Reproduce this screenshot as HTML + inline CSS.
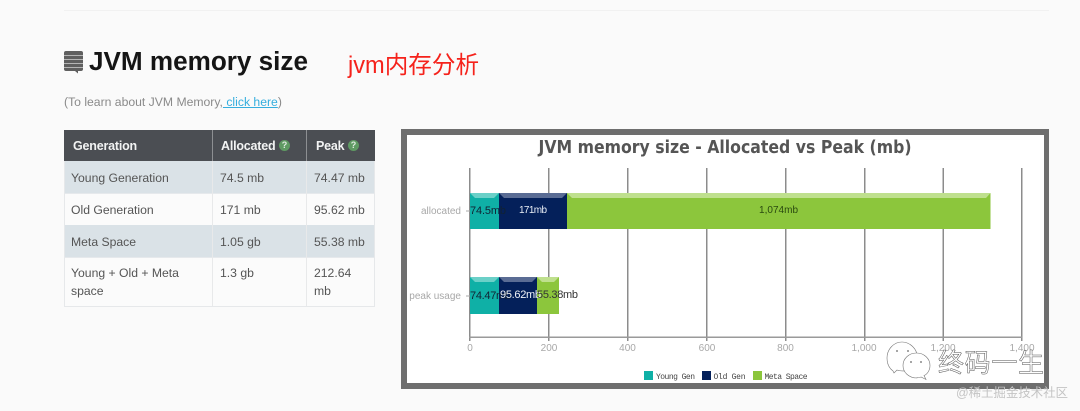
<!DOCTYPE html>
<html><head><meta charset="utf-8">
<style>
html,body{margin:0;padding:0;background:#fafafa}
body{width:1080px;height:411px;position:relative;overflow:hidden;font-family:"Liberation Sans","Noto Sans CJK SC",sans-serif}
.a{position:absolute;white-space:nowrap}
.c{position:absolute;box-sizing:border-box;font-size:12.200px;color:#555;padding-left:7px;line-height:17.500px}
</style></head><body>
<div class="a" style="left:64px;top:10px;width:985px;height:1px;background:#f1f1f1"></div>
<svg class="a" style="left:64px;top:51px" width="20" height="24" viewBox="0 0 20 24">
<path d="M2 0H17Q19 0 19 2V18Q19 20 17 20H14V22.500L11 20H2Q0 20 0 18V2Q0 0 2 0Z" fill="#5f5f5f"/>
<g fill="#b5b5b5"><rect x="0" y="4" width="19" height="1"/><rect x="0" y="8" width="19" height="1"/><rect x="0" y="12" width="19" height="1"/><rect x="0" y="16" width="19" height="1"/></g></svg>
<div class="a" style="left:89px;top:45px;font-size:26.100px;font-weight:bold;color:#151515;line-height:32px">JVM memory size</div>
<div class="a" style="left:348px;top:51px;font-size:23.600px;color:#f5221b;line-height:31px">jvm内存分析</div>
<div class="a" style="left:64px;top:94px;font-size:12.200px;color:#8a8a8a;line-height:16px">(To learn about JVM Memory,<span style="color:#35aede;text-decoration:underline"> click here</span>)</div>

<!-- table -->
<div class="a" style="left:64px;top:130px;width:311px;height:177px;background:#fbfbfb;border:1px solid #e6e8ea;box-sizing:border-box"></div>
<div class="a" style="left:64px;top:130px;width:311px;height:31px;background:#4b4e53"></div>
<div class="a" style="left:65px;top:161px;width:309px;height:32px;background:#dae2e7"></div>
<div class="a" style="left:65px;top:225px;width:309px;height:32px;background:#dae2e7"></div>
<div class="a" style="left:65px;top:193px;width:309px;height:1px;background:#e6e9ec"></div>
<div class="a" style="left:65px;top:257px;width:309px;height:1px;background:#e6e9ec"></div>
<div class="a" style="left:212px;top:130px;width:1px;height:176px;background:#e8e9ea"></div>
<div class="a" style="left:306px;top:130px;width:1px;height:176px;background:#e8e9ea"></div>
<div class="a" style="left:212px;top:130px;width:1px;height:31px;background:#8d8f92"></div>
<div class="a" style="left:306px;top:130px;width:1px;height:31px;background:#8d8f92"></div>
<div class="a" style="left:73px;top:138px;font-size:12.500px;font-weight:bold;color:#f2f3f3;line-height:16px;letter-spacing:-.2px">Generation</div>
<div class="a" style="left:221px;top:138px;font-size:12.500px;font-weight:bold;color:#f2f3f3;line-height:16px;letter-spacing:-.2px">Allocated</div>
<div class="a" style="left:316px;top:138px;font-size:12.500px;font-weight:bold;color:#f2f3f3;line-height:16px;letter-spacing:-.2px">Peak</div>
<div class="a" style="left:279px;top:140px;width:11px;height:11px;border-radius:50%;background:#5f9a63;color:#dfe9df;font-size:9px;font-weight:bold;text-align:center;line-height:11px">?</div>
<div class="a" style="left:348px;top:140px;width:11px;height:11px;border-radius:50%;background:#5f9a63;color:#dfe9df;font-size:9px;font-weight:bold;text-align:center;line-height:11px">?</div>

<div class="c" style="left:64px;top:170px">Young Generation</div><div class="c" style="left:213px;top:170px">74.5 mb</div><div class="c" style="left:307px;top:170px">74.47 mb</div>
<div class="c" style="left:64px;top:202px">Old Generation</div><div class="c" style="left:213px;top:202px">171 mb</div><div class="c" style="left:307px;top:202px">95.62 mb</div>
<div class="c" style="left:64px;top:234px">Meta Space</div><div class="c" style="left:213px;top:234px">1.05 gb</div><div class="c" style="left:307px;top:234px">55.38 mb</div>
<div class="c" style="left:64px;top:265px">Young + Old + Meta<br>space</div><div class="c" style="left:213px;top:265px">1.3 gb</div><div class="c" style="left:307px;top:265px">212.64<br>mb</div>

<!-- chart -->
<svg class="a" style="left:0;top:0" width="1080" height="411" viewBox="0 0 1080 411" font-family="'Liberation Sans','DejaVu Sans',sans-serif">
<rect x="401" y="129" width="648" height="260" fill="#6e6e6e"/>
<rect x="407" y="135" width="637" height="248" fill="#fff"/>
<text x="725" y="153" text-anchor="middle" font-family="'DejaVu Sans',sans-serif" font-size="17.500" font-weight="bold" fill="#555" textLength="373" lengthAdjust="spacingAndGlyphs">JVM memory size - Allocated vs Peak (mb)</text>
<g fill="#8c8c8c">
<rect x="469" y="168" width="1.500" height="173"/><rect x="548" y="168" width="1.500" height="173"/><rect x="627" y="168" width="1.500" height="173"/><rect x="706" y="168" width="1.500" height="173"/><rect x="785" y="168" width="1.500" height="173"/><rect x="864" y="168" width="1.500" height="173"/><rect x="942.500" y="168" width="1.500" height="173"/><rect x="1021" y="168" width="1.500" height="173"/>
<rect x="469" y="336.500" width="553" height="1.500" fill="#9a9a9a"/>
</g>
<!-- allocated -->
<rect x="470" y="193" width="29" height="36" fill="#0fb0a6"/>
<rect x="499" y="193" width="68" height="36" fill="#04205a"/>
<rect x="567" y="193" width="423.500" height="36" fill="#8cc63c"/>
<path d="M470 193H499L494 198H475Z" fill="#6bd0c8"/>
<path d="M499 193H567L562 198H504Z" fill="#5a6c94"/>
<path d="M567 193H990.500L986 198H572Z" fill="#bfe08e"/>
<!-- peak -->
<rect x="470" y="277" width="29" height="37" fill="#0fb0a6"/>
<rect x="499" y="277" width="38" height="37" fill="#04205a"/>
<rect x="537" y="277" width="22" height="37" fill="#8cc63c"/>
<path d="M470 277H499L494 282H475Z" fill="#6bd0c8"/>
<path d="M499 277H537L532 282H504Z" fill="#5a6c94"/>
<path d="M537 277H559L554 282H542Z" fill="#bfe08e"/>

<g font-size="10" fill="#a8a8a8">
<text x="461" y="214" text-anchor="end">allocated</text>
<text x="461" y="299" text-anchor="end">peak usage</text>
<rect x="466" y="210.500" width="4" height="1"/><rect x="466" y="295.500" width="4" height="1"/>
</g>
<g font-size="10" fill="#a8a8a8" text-anchor="middle">
<text x="470" y="351">0</text><text x="549" y="351">200</text><text x="627.500" y="351">400</text><text x="707" y="351">600</text><text x="785.500" y="351">800</text><text x="864" y="351">1,000</text><text x="943" y="351">1,200</text><text x="1022" y="351">1,400</text>
</g>
<g font-size="10">
<text x="470" y="214" fill="#123" font-size="11" textLength="36">74.5mb</text>
<text x="519" y="213" fill="#e8edf5" textLength="28">171mb</text>
<text x="759" y="213" fill="#2a4a10" textLength="39">1,074mb</text>
<text x="470" y="299" fill="#123" font-size="11" textLength="41">74.47mb</text>
<text x="500" y="298" fill="#f0f3f8" font-size="11" textLength="41">95.62mb</text>
<text x="537" y="298" fill="#333" font-size="11" textLength="41">55.38mb</text>
</g>
<!-- legend -->
<rect x="644" y="371" width="9" height="9" fill="#0fb0a6"/>
<rect x="702" y="371" width="9" height="9" fill="#04205a"/>
<rect x="753" y="371" width="9" height="9" fill="#8cc63c"/>
<g font-family="'Liberation Mono',monospace" font-size="8" fill="#444">
<text x="656" y="379" textLength="39">Young Gen</text><text x="713.500" y="379" textLength="32">Old Gen</text><text x="764.500" y="379" textLength="43">Meta Space</text>
</g>
<!-- watermark -->
<g fill="#fff" stroke="#777" stroke-width=".6">
<path d="M893 371c-4-3-6-7-6-13c0-9 7-16 15-16s15 7 15 14c0 3 0 4-1 5c-4 0-10 5-11 10c-3 0-6 0-8-1l-3 3z"/>
<path d="M917 378c-8 0-14-5.500-14-12.500s6-12.500 13.500-12.500s13.500 5.500 13.500 12.500c0 5-3 9-6 10l2 4l-5-2.500c-1 .5-3 .5-4 .5z"/>
</g>
<g fill="#666"><circle cx="897" cy="351" r=".9"/><circle cx="908" cy="351" r=".9"/><circle cx="911" cy="362" r=".9"/><circle cx="921" cy="362" r=".9"/></g>
<text x="938" y="372" font-family="'Noto Sans CJK SC',sans-serif" font-size="26" fill="#fff" stroke="#555" stroke-width=".5" textLength="106" lengthAdjust="spacing">终码一生</text>
<text x="956" y="397" font-family="'Liberation Sans','Noto Sans CJK SC',sans-serif" font-size="12.500" fill="#c4c4c4" textLength="112" lengthAdjust="spacing">@稀土掘金技术社区</text>
</svg>
</body></html>
